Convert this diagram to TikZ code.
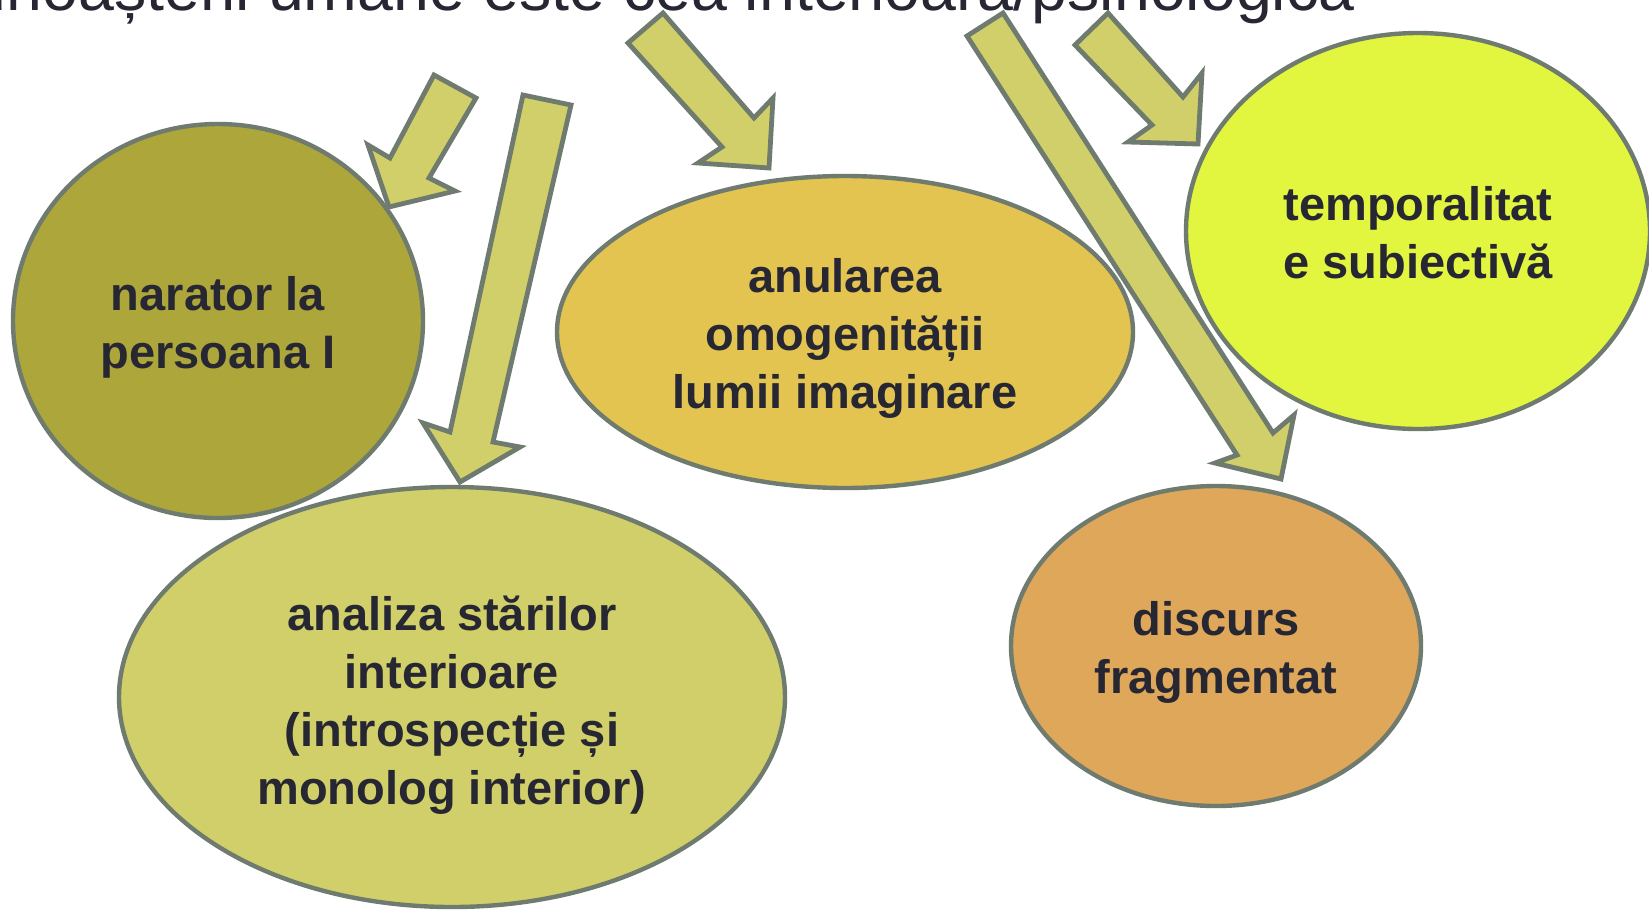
\documentclass[tikz,border=0pt]{standalone}
\usepackage{xcolor}
\usepackage{fontspec}
\setmainfont{Liberation Sans}
\usetikzlibrary{shapes.geometric}
\definecolor{rimgray}{HTML}{6E7B6E}
\definecolor{inkdark}{HTML}{272733}
\definecolor{arrowfill}{HTML}{D1CF69}
\definecolor{olivefill}{HTML}{ADA63A}
\definecolor{mustardfill}{HTML}{E3C451}
\definecolor{limefill}{HTML}{E2F53F}
\definecolor{ochrefill}{HTML}{DEA75A}
\tikzset{
  bubble/.style={ellipse, draw=rimgray, line width=2.2pt, inner sep=0pt},
  bubbletext/.style={inner sep=0pt, align=center, text=inkdark,
    font=\bfseries\fontsize{23.5}{29}\selectfont},
  blockarrow/.style={draw=rimgray, fill=arrowfill, line width=2.4pt, line join=miter}
}
\begin{document}
\begin{tikzpicture}[scale=1.000000,x=0.5pt,y=-0.5pt]
\useasboundingbox (0.000000,0.000000) rectangle (1649.000000,911.000000);
\clip (0.000000,0.000000) rectangle (1649.000000,911.000000);
\fill[white] (0.000000,0.000000) rectangle (1649.000000,911.000000);
% Heading line, cut by the top edge
\node[anchor=base west, inner sep=0pt, text=inkdark, font=\fontsize{32.25}{38}\selectfont] (heading) at (-62.000000,10.000000) {cunoașterii umane este cea interioară/psihologică};
% Drawing ellipses
% Ellipse 1: narator
\node[bubble, fill=olivefill, minimum width=205pt, minimum height=197pt] (narator) at (218.000000,321.000000) {};
\node[bubbletext] (narator-text) at ([yshift=-3pt]narator.center) {narator la\\persoana I};
% Ellipse 2: analiza
\node[bubble, fill=arrowfill, minimum width=333pt, minimum height=210pt] (analiza) at (452.000000,697.000000) {};
\node[bubbletext] (analiza-text) at ([yshift=-4pt]analiza.center) {analiza stărilor\\interioare\\(introspecție și\\monolog interior)};
% Ellipse 3: anularea
\node[bubble, fill=mustardfill, minimum width=288pt, minimum height=156pt] (anularea) at (845.000000,332.000000) {};
\node[bubbletext] (anularea-text) at ([yshift=-3pt]anularea.center) {anularea\\omogenității\\lumii imaginare};
% Ellipse 4: temporalitate
\node[bubble, fill=limefill, minimum width=232pt, minimum height=198pt] (temporal) at (1418.000000,231.000000) {};
\node[bubbletext] (temporal-text) at ([yshift=-1pt]temporal.center) {temporalitat\\e subiectivă};
% Ellipse 5: discurs
\node[bubble, fill=ochrefill, minimum width=205pt, minimum height=160pt] (discurs) at (1216.000000,646.000000) {};
\node[bubbletext] (discurs-text) at ([yshift=-3pt]discurs.center) {discurs\\fragmentat};
% Done with ellipses; drawing arrows
% Arrow 1: towards narator
\draw[blockarrow] (434.000000,75.000000) -- (476.000000,98.000000) -- (429.000000,178.000000) -- (455.000000,191.000000) -- (389.000000,207.000000) -- (368.000000,145.000000) -- (390.000000,158.000000) -- cycle;
% Arrow 2: towards analiza
\draw[blockarrow] (523.000000,95.000000) -- (571.000000,105.000000) -- (493.000000,442.000000) -- (520.000000,447.000000) -- (460.000000,482.000000) -- (423.000000,423.000000) -- (450.000000,432.000000) -- cycle;
% Arrow 3: towards anularea
\draw[blockarrow] (663.000000,13.000000) -- (754.000000,118.000000) -- (773.000000,98.000000) -- (769.000000,168.000000) -- (698.000000,163.000000) -- (722.000000,147.000000) -- (628.000000,43.000000) -- cycle;
% Arrow 4: towards discurs
\draw[blockarrow] (1003.000000,13.000000) -- (1273.000000,433.000000) -- (1294.000000,415.000000) -- (1281.000000,479.000000) -- (1215.000000,463.000000) -- (1237.000000,455.000000) -- (967.000000,36.000000) -- cycle;
% Arrow 5: towards temporalitate
\draw[blockarrow] (1108.000000,13.000000) -- (1183.000000,97.000000) -- (1202.000000,73.000000) -- (1198.000000,144.000000) -- (1128.000000,142.000000) -- (1152.000000,125.000000) -- (1075.000000,45.000000) -- cycle;
% Done with arrows
\end{tikzpicture}
\end{document}
